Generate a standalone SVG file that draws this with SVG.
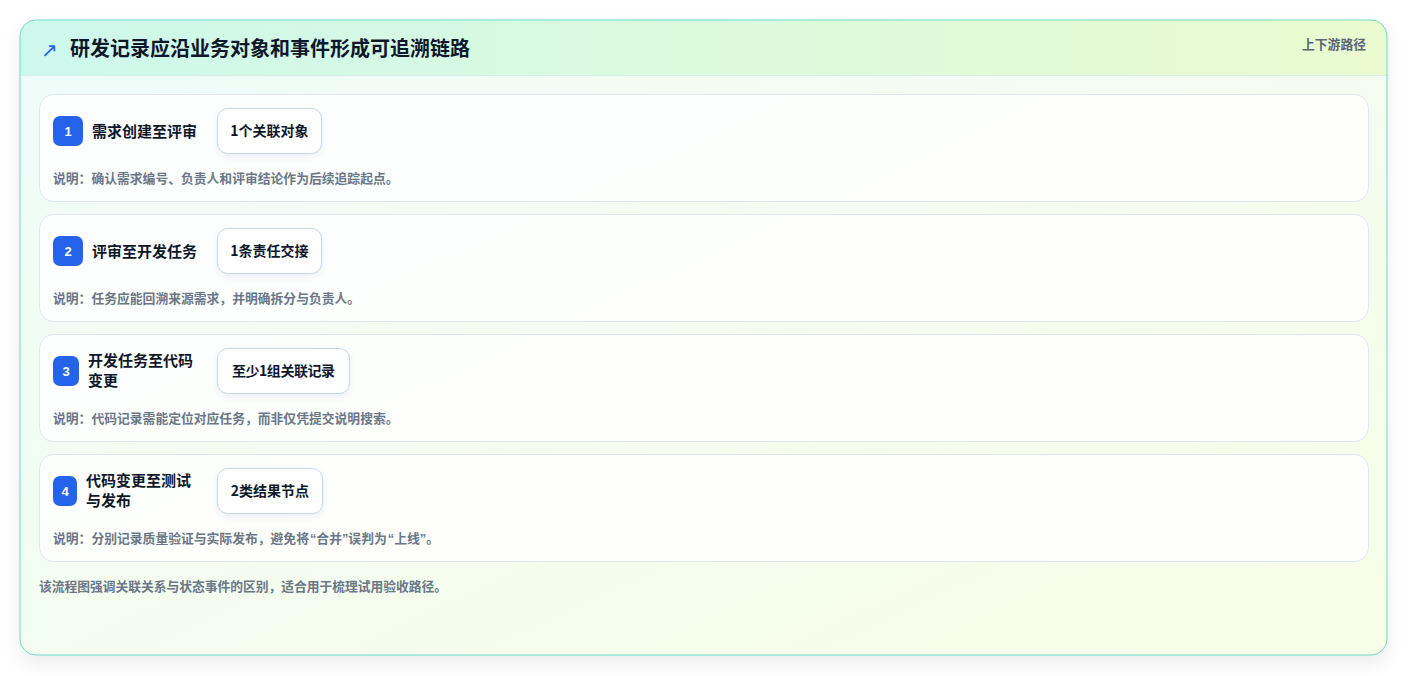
<svg xmlns="http://www.w3.org/2000/svg" width="1408" height="676" viewBox="0 0 1408 676">
<defs>
<linearGradient id="bodyG" x1="0" y1="0" x2="1" y2="1">
<stop offset="0" stop-color="#effcf9"/>
<stop offset="1" stop-color="#f7fde6"/>
</linearGradient>
<linearGradient id="headG" x1="0" y1="0" x2="1" y2="0">
<stop offset="0" stop-color="#cdf8ec"/>
<stop offset="1" stop-color="#eafbcf"/>
</linearGradient>
<clipPath id="cardClip"><rect x="20" y="20" width="1367" height="635" rx="16"/></clipPath>
<filter id="cardSh" x="-5%" y="-5%" width="110%" height="115%">
<feDropShadow dx="0" dy="8" stdDeviation="9" flood-color="#0f172a" flood-opacity="0.08"/>
</filter>
<filter id="pillSh" x="-20%" y="-20%" width="140%" height="160%">
<feDropShadow dx="0" dy="3" stdDeviation="3" flood-color="#1e3a8a" flood-opacity="0.08"/>
</filter>
<style>
.row{fill:#ffffff;fill-opacity:0.85;stroke:#dbe7f5;stroke-width:1}
.badge{fill:#2563eb}
.num{font-family:"Liberation Sans","Noto Sans CJK SC",sans-serif;font-size:13px;font-weight:700;fill:#ffffff;text-anchor:middle}
.ttl{font-family:"Noto Sans CJK SC","Liberation Sans",sans-serif;font-size:15px;font-weight:700;fill:#0f172a}
.pill{fill:#ffffff;stroke:#c3d5ef;stroke-width:1}
.ptx{font-family:"Noto Sans CJK SC","Liberation Sans",sans-serif;font-size:14px;font-weight:700;fill:#0f172a;text-anchor:middle}
.desc{font-family:"Noto Sans CJK SC","Liberation Sans",sans-serif;font-size:12.8px;font-weight:700;fill:#6b7686}
.q{font-family:"Liberation Sans",sans-serif}
</style>
</defs>
<rect width="1408" height="676" fill="#ffffff"/>
<g id="card">
<rect x="20" y="20" width="1367" height="635" rx="16" fill="url(#bodyG)" filter="url(#cardSh)"/>
<g clip-path="url(#cardClip)">
<rect x="20" y="20" width="1367" height="55" fill="url(#headG)"/>
<line x1="20" y1="75.5" x2="1387" y2="75.5" stroke="#d6efea" stroke-width="1"/>
</g>
<rect x="20" y="20" width="1367" height="635" rx="16" fill="none" stroke="#6fdcc8" stroke-width="1"/>
</g>
<g id="header">
<text x="41" y="57" font-family="DejaVu Sans,sans-serif" font-size="20" fill="#2563eb">↗</text>
<text x="70" y="56" font-family="Noto Sans CJK SC,Liberation Sans,sans-serif" font-size="20" font-weight="700" fill="#0f172a">研发记录应沿业务对象和事件形成可追溯链路</text>
<text x="1366" y="49" text-anchor="end" font-family="Noto Sans CJK SC,Liberation Sans,sans-serif" font-size="12.8" font-weight="700" fill="#5b6675">上下游路径</text>
</g>
<g id="connectors"></g>
<g id="step1">
<rect class="row" x="39.5" y="94.5" width="1329" height="107" rx="14"/>
<rect class="badge" x="53" y="116" width="30" height="30" rx="7"/>
<text class="num" x="68" y="136">1</text>
<text class="ttl" x="92" y="136.5">需求创建至评审</text>
<rect class="pill" x="217.5" y="108.5" width="104" height="45" rx="10" filter="url(#pillSh)"/>
<text class="ptx" x="269.5" y="136">1个关联对象</text>
<text class="desc" x="53" y="182.5">说明：确认需求编号、负责人和评审结论作为后续追踪起点。</text>
</g>
<g id="step2">
<rect class="row" x="39.5" y="214.5" width="1329" height="107" rx="14"/>
<rect class="badge" x="53" y="236" width="30" height="30" rx="7"/>
<text class="num" x="68" y="256">2</text>
<text class="ttl" x="92" y="256.5">评审至开发任务</text>
<rect class="pill" x="217.5" y="228.5" width="104" height="45" rx="10" filter="url(#pillSh)"/>
<text class="ptx" x="269.5" y="256">1条责任交接</text>
<text class="desc" x="53" y="302.5">说明：任务应能回溯来源需求，并明确拆分与负责人。</text>
</g>
<g id="step3">
<rect class="row" x="39.5" y="334.5" width="1329" height="107" rx="14"/>
<rect class="badge" x="53" y="356" width="26" height="30" rx="7"/>
<text class="num" x="66" y="376">3</text>
<text class="ttl" x="88" y="366">开发任务至代码</text>
<text class="ttl" x="88" y="386">变更</text>
<rect class="pill" x="217.5" y="348.5" width="132" height="45" rx="10" filter="url(#pillSh)"/>
<text class="ptx" x="283.5" y="376" textLength="103" lengthAdjust="spacing">至少1组关联记录</text>
<text class="desc" x="53" y="422.5">说明：代码记录需能定位对应任务，而非仅凭提交说明搜索。</text>
</g>
<g id="step4">
<rect class="row" x="39.5" y="454.5" width="1329" height="107" rx="14"/>
<rect class="badge" x="53" y="476" width="24" height="30" rx="7"/>
<text class="num" x="65" y="496">4</text>
<text class="ttl" x="86" y="486">代码变更至测试</text>
<text class="ttl" x="86" y="506">与发布</text>
<rect class="pill" x="217.5" y="468.5" width="105" height="45" rx="10" filter="url(#pillSh)"/>
<text class="ptx" x="270" y="496">2类结果节点</text>
<text class="desc" x="53" y="542.5">说明：分别记录质量验证与实际发布，避免将<tspan class="q" dx="1">“</tspan>合并<tspan class="q">”</tspan>误判为<tspan class="q" dx="1">“</tspan>上线<tspan class="q">”</tspan>。</text>
</g>
<g id="footer">
<text x="39" y="591" font-family="Noto Sans CJK SC,Liberation Sans,sans-serif" font-size="12.75" font-weight="700" fill="#6b7686">该流程图强调关联关系与状态事件的区别，适合用于梳理试用验收路径。</text>
</g>
</svg>
